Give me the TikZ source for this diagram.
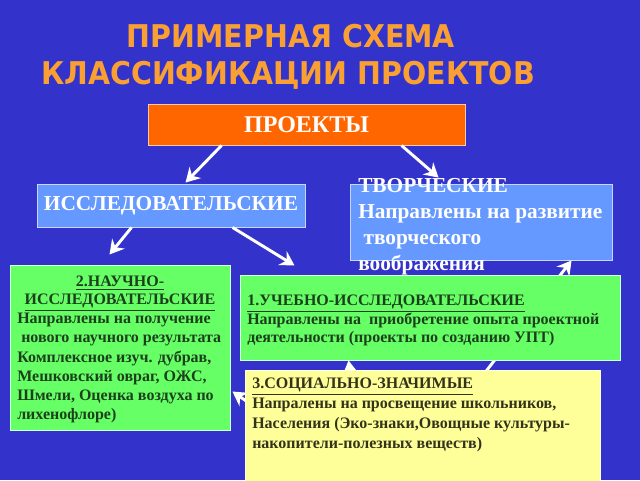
\documentclass[tikz,border=0pt]{standalone}
\usepackage{fontspec}
\setmainfont{Liberation Serif}
\newfontfamily\titlefont{DejaVu Sans}
\usetikzlibrary{arrows.meta,calc}
\definecolor{bg}{RGB}{51,51,204}
\definecolor{titleorange}{RGB}{250,160,50}
\definecolor{projorange}{RGB}{255,102,0}
\definecolor{boxblue}{RGB}{102,153,255}
\definecolor{boxgreen}{RGB}{102,255,102}
\definecolor{boxyellow}{RGB}{255,255,153}
\definecolor{greentext}{RGB}{28,64,28}
\definecolor{yellowtext}{RGB}{51,51,26}
\tikzset{
  titletext/.style={font=\titlefont\bfseries\fontsize{23.5}{28}\selectfont, text=titleorange, inner sep=0pt, anchor=base},
  boxbase/.style={rectangle, inner sep=0pt, line width=0.7pt},
  projbox/.style={boxbase, fill=projorange, draw={rgb,255:red,255;green,200;blue,170}, text=white, font=\bfseries\fontsize{18}{22}\selectfont},
  bluebox/.style={boxbase, fill=boxblue, draw={rgb,255:red,200;green,215;blue,255}},
  greenbox/.style={boxbase, fill=boxgreen, draw={rgb,255:red,210;green,255;blue,210}},
  yellowbox/.style={boxbase, fill=boxyellow, draw={rgb,255:red,255;green,255;blue,220}},
  bluetext/.style={inner sep=0pt, text=white, font=\bfseries\fontsize{16}{19.5}\selectfont},
  greentxt/.style={inner sep=0pt, text=greentext, font=\bfseries\fontsize{12}{14.4}\selectfont},
  yellowtxt/.style={inner sep=0pt, text=yellowtext, font=\bfseries\fontsize{12}{14.8}\selectfont},
  arr/.style={draw=white, line width=2.2pt, -{Stealth[length=10.5pt,width=12pt,inset=3.5pt]}}
}
\begin{document}
\begin{tikzpicture}[x=0.75pt,y=-0.75pt]
\useasboundingbox (0,0) rectangle (640,480);
\clip (0,0) rectangle (640,480);
\fill[bg] (0,0) rectangle (640,480);

% title
\node[titletext] (t1) at (291,47) {\scalebox{0.91}[1]{ПРИМЕРНАЯ СХЕМА}};
\node[titletext] (t2) at (288,84) {\scalebox{0.91}[1]{КЛАССИФИКАЦИИ ПРОЕКТОВ}};

% upper boxes
\node[projbox, minimum width=237.75pt, minimum height=30.75pt] (proj) at (306.5,124.5) {ПРОЕКТЫ};
\node[bluebox, minimum width=201pt, minimum height=32.25pt] (iss) at (171,205.5) {};
\node[bluetext] (isstext) at (iss.center) {ИССЛЕДОВАТЕЛЬСКИЕ};
\node[bluebox, minimum width=196.5pt, minimum height=57pt] (tv) at (481,222) {};
\node[bluetext, anchor=north west, align=left] (tvtext) at (358,178)
  {ТВОРЧЕСКИЕ\\Направлены на развитие\\\hspace{4pt}творческого\\воображения};

% arrows of the upper part
\draw[arr] ($(proj.south west)+(74,0)$) -- ($(iss.north west)+(149,-1)$);
\draw[arr] ($(proj.south west)+(254,0)$) -- ($(tv.north west)+(89,-6)$);
\draw[arr] ($(iss.south west)+(95,0)$) -- ($(iss.south west)+(73,27)$) coordinate (a3);
\draw[arr] ($(iss.south west)+(196,0)$) -- ($(iss.south west)+(258,38)$) coordinate (a4);

% lower boxes
\node[greenbox, minimum width=165pt, minimum height=123.75pt] (g2) at (120,347.5) {};
\node[greenbox, minimum width=285pt, minimum height=63.75pt] (g1) at (430,317.5) {};
\node[yellowbox, minimum width=266.25pt, minimum height=90pt] (soc) at (422.5,430) {};

% arrows from the social box (partly hidden)
\draw[arr] ($(soc.north west)+(107,12)$) -- ($(g1.south west)+(109,0)$);
\draw[arr] ($(soc.north west)+(239,5)$) -- ($(tv.south west)+(222,0)$);
\draw[arr] ($(soc.north west)+(17,42)$) -- ($(g2.north east)+(2,127)$);

% redraw boxes over the arrow shafts
\node[greenbox, minimum width=285pt, minimum height=63.75pt] (g1top) at (g1.center) {};
\node[yellowbox, minimum width=266.25pt, minimum height=90pt] (soctop) at (soc.center) {};

% texts
\node[greentxt, anchor=north, align=center, font=\bfseries\fontsize{12}{13.5}\selectfont] (g2head) at (120,276)
  {\underline{2.НАУЧНО-}\\\underline{ИССЛЕДОВАТЕЛЬСКИЕ}};
\node[greentxt, anchor=north west, align=left] (g2body) at (17,313)
  {Направлены на получение\\\hspace{3pt}нового научного результата\\Комплексное изуч. дубрав,\\Мешковский овраг, ОЖС,\\Шмели, Оценка воздуха по\\лихенофлоре)};
\node[greentxt, anchor=north west, align=left, font=\bfseries\fontsize{12}{13.9}\selectfont] (g1text) at (247,295)
  {\underline{1.УЧЕБНО-ИССЛЕДОВАТЕЛЬСКИЕ}\\Направлены на\ \ приобретение опыта проектной\\деятельности (проекты по созданию УПТ)};
\node[yellowtxt, anchor=north west, align=left] (soctext) at (252,378)
  {\underline{3.СОЦИАЛЬНО-ЗНАЧИМЫЕ}\\Напралены на просвещение школьников,\\Населения (Эко-знаки,Овощные культуры-\\накопители-полезных веществ)};
\end{tikzpicture}
\end{document}
